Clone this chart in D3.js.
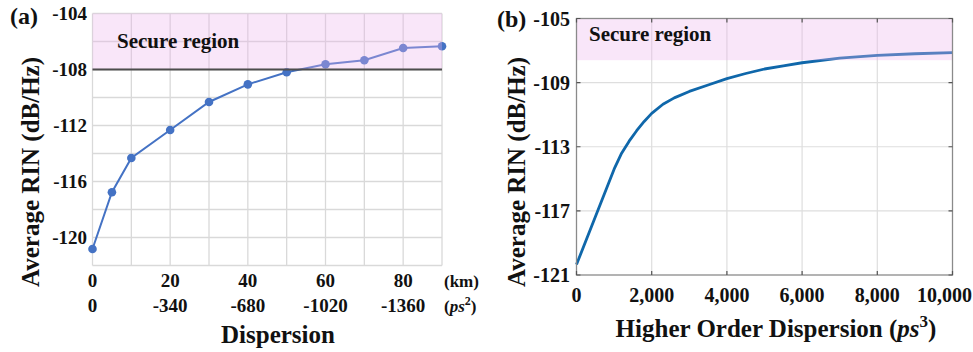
<!DOCTYPE html>
<html>
<head>
<meta charset="utf-8">
<script src="https://cdn.jsdelivr.net/npm/d3@7"></script>
<style>
  html, body { margin: 0; padding: 0; background: #fff; }
  svg text { font-family: "Liberation Serif", "Times New Roman", serif; font-weight: bold; fill: #111; }
</style>
</head>
<body>
<svg id="fig" width="973" height="352"></svg>
<script>
// ---- Panel (a): average RIN against fibre dispersion ----
const distKm = [0, 5, 10, 20, 30, 40, 50, 60, 70, 80, 90];
const rinA = [-120.82, -116.77, -114.32, -112.32, -110.32, -109.06, -108.2, -107.63, -107.34, -106.46, -106.34];
const kmTicks = [0, 20, 40, 60, 80];
const ps2Labels = ["0", "-340", "-680", "-1020", "-1360"];
const yTicksA = [-104, -108, -112, -116, -120];
const secureA = -108;

// ---- Panel (b): average RIN against third-order dispersion ----
const hod = [0, 1000, 1200, 1400, 1600, 1800, 2000, 2300, 2600, 3000, 3500, 4000, 4500, 5000, 5500, 6000, 7000, 8000, 9000, 10000];
const rinB = [-120.35, -114.4, -113.4, -112.65, -112.0, -111.42, -110.92, -110.35, -109.95, -109.55, -109.15, -108.75, -108.43, -108.15, -107.95, -107.76, -107.47, -107.3, -107.2, -107.13];
const xTicksB = [0, 2000, 4000, 6000, 8000, 10000];
const yTicksB = [-105, -109, -113, -117, -121];
const secureB = -107.6;

const svg = d3.select("#fig");
const pink = "rgb(238,180,238)";
const pinkOpacity = 0.33;

// ================= Panel (a) =================
const xA = d3.scaleLinear().domain([0, 90]).range([92.5, 442]);
const yA = d3.scaleLinear().domain([-122, -104]).range([265.5, 13.5]);
const gA = svg.append("g");

// grid
gA.append("g").selectAll("line").data(d3.range(0, 91, 10)).join("line")
  .attr("x1", d => xA(d)).attr("x2", d => xA(d))
  .attr("y1", yA(-104)).attr("y2", yA(-122))
  .attr("stroke", "#d9d9d9").attr("stroke-width", 1.3);
gA.append("g").selectAll("line").data(d3.range(-122, -103, 2)).join("line")
  .attr("x1", xA(0)).attr("x2", xA(90))
  .attr("y1", d => yA(d)).attr("y2", d => yA(d))
  .attr("stroke", "#d9d9d9").attr("stroke-width", 1.3);

// series
const lineA = d3.line().x((d, i) => xA(distKm[i])).y(d => yA(d));
gA.append("path").datum(rinA).attr("d", lineA)
  .attr("fill", "none").attr("stroke", "#4472c4").attr("stroke-width", 2);
gA.append("g").selectAll("circle").data(rinA).join("circle")
  .attr("cx", (d, i) => xA(distKm[i])).attr("cy", d => yA(d)).attr("r", 4.3)
  .attr("fill", "#4472c4");

// secure region shading and threshold
gA.append("rect")
  .attr("x", xA(0)).attr("y", yA(-104))
  .attr("width", xA(90) - xA(0)).attr("height", yA(secureA) - yA(-104))
  .attr("fill", pink).attr("fill-opacity", pinkOpacity);
gA.append("line")
  .attr("x1", xA(0)).attr("x2", xA(90))
  .attr("y1", yA(secureA)).attr("y2", yA(secureA))
  .attr("stroke", "#4d4d4d").attr("stroke-width", 2);
gA.append("text").attr("x", 117).attr("y", 48)
  .attr("font-size", 21).text("Secure region");

// y tick labels
gA.append("g").selectAll("text").data(yTicksA).join("text")
  .attr("x", 87).attr("y", d => yA(d)).attr("dy", "0.35em")
  .attr("text-anchor", "end").attr("font-size", 19).text(d => d);

// x tick labels: km row and ps^2 row
gA.append("g").selectAll("text").data(kmTicks).join("text")
  .attr("x", d => xA(d)).attr("y", 287)
  .attr("text-anchor", "middle").attr("font-size", 19).text(d => d);
gA.append("g").selectAll("text").data(kmTicks).join("text")
  .attr("x", d => xA(d)).attr("y", 312)
  .attr("text-anchor", "middle").attr("font-size", 19).text((d, i) => ps2Labels[i]);
gA.append("text").attr("x", 444).attr("y", 287).attr("font-size", 17).text("(km)");
const ps2 = gA.append("text").attr("x", 444).attr("y", 312).attr("font-size", 17);
ps2.append("tspan").text("(");
ps2.append("tspan").attr("font-style", "italic").text("ps");
ps2.append("tspan").attr("font-size", 12).attr("dy", -7).text("2");
ps2.append("tspan").attr("dy", 7).text(")");

gA.append("text").attr("x", 278).attr("y", 343)
  .attr("text-anchor", "middle").attr("font-size", 25).text("Dispersion");
gA.append("text")
  .attr("transform", "translate(39,172) rotate(-90)")
  .attr("text-anchor", "middle").attr("font-size", 25).text("Average RIN (dB/Hz)");
gA.append("text").attr("x", 10).attr("y", 24).attr("font-size", 24).text("(a)");

// ================= Panel (b) =================
const xB = d3.scaleLinear().domain([0, 10000]).range([576.5, 952.5]);
const yB = d3.scaleLinear().domain([-121, -105]).range([275, 18.5]);
const gB = svg.append("g");

// grid
gB.append("g").selectAll("line").data(xTicksB.slice(1, -1)).join("line")
  .attr("x1", d => xB(d)).attr("x2", d => xB(d))
  .attr("y1", yB(-105)).attr("y2", yB(-121))
  .attr("stroke", "#dedede").attr("stroke-width", 1.2);
gB.append("g").selectAll("line").data(yTicksB.slice(1, -1)).join("line")
  .attr("x1", xB(0)).attr("x2", xB(10000))
  .attr("y1", d => yB(d)).attr("y2", d => yB(d))
  .attr("stroke", "#dedede").attr("stroke-width", 1.2);

// curve
const lineB = d3.line().x((d, i) => xB(hod[i])).y(d => yB(d));
gB.append("path").datum(rinB).attr("d", lineB)
  .attr("fill", "none").attr("stroke", "#0f67aa").attr("stroke-width", 2.8)
  .attr("stroke-linejoin", "round");

// secure region shading
gB.append("rect")
  .attr("x", xB(0)).attr("y", yB(-105))
  .attr("width", xB(10000) - xB(0)).attr("height", yB(secureB) - yB(-105))
  .attr("fill", pink).attr("fill-opacity", pinkOpacity);

// frame and inward ticks
gB.append("rect")
  .attr("x", xB(0)).attr("y", yB(-105))
  .attr("width", xB(10000) - xB(0)).attr("height", yB(-121) - yB(-105))
  .attr("fill", "none").attr("stroke", "#8a8a8a").attr("stroke-width", 1.3);
const tk = 4;
gB.append("g").selectAll("path").data(xTicksB).join("path")
  .attr("d", d => `M${xB(d)},${yB(-121)}v${-tk}M${xB(d)},${yB(-105)}v${tk}`)
  .attr("stroke", "#555").attr("stroke-width", 1.2);
gB.append("g").selectAll("path").data(yTicksB).join("path")
  .attr("d", d => `M${xB(0)},${yB(d)}h${tk}M${xB(10000)},${yB(d)}h${-tk}`)
  .attr("stroke", "#555").attr("stroke-width", 1.2);

gB.append("text").attr("x", 589).attr("y", 41)
  .attr("font-size", 21).text("Secure region");

// tick labels
gB.append("g").selectAll("text").data(yTicksB).join("text")
  .attr("x", 570).attr("y", d => yB(d)).attr("dy", "0.35em")
  .attr("text-anchor", "end").attr("font-size", 20).text(d => d);
gB.append("g").selectAll("text").data(xTicksB).join("text")
  .attr("x", d => xB(d)).attr("y", 302)
  .attr("dx", d => d === 10000 ? -8 : 0)
  .attr("text-anchor", "middle").attr("font-size", 20).text(d => d3.format(",")(d));

const hx = gB.append("text").attr("x", 776).attr("y", 337)
  .attr("text-anchor", "middle").attr("font-size", 25);
hx.append("tspan").text("Higher Order Dispersion (");
hx.append("tspan").attr("font-style", "italic").text("ps");
hx.append("tspan").attr("font-size", 17).attr("dy", -10).text("3");
hx.append("tspan").attr("dy", 10).text(")");

gB.append("text")
  .attr("transform", "translate(525,172) rotate(-90)")
  .attr("text-anchor", "middle").attr("font-size", 25).text("Average RIN (dB/Hz)");
gB.append("text").attr("x", 497).attr("y", 27).attr("font-size", 24).text("(b)");
</script>
</body>
</html>
